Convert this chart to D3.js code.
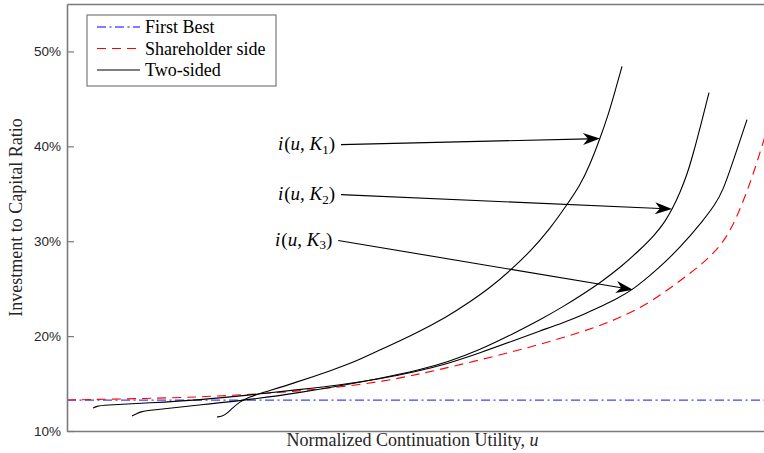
<!DOCTYPE html>
<html><head><meta charset="utf-8">
<script src="https://cdn.jsdelivr.net/npm/d3@7"></script>
<style>body{margin:0;background:#fff;overflow:hidden}</style>
</head><body><svg id="c" width="764" height="453"></svg>
<script>
// ---- data ----
const yTicks = [10, 20, 30, 40, 50];
const yTickLabels = ["10%", "20%", "30%", "40%", "50%"];
const legendLabels = ["First Best", "Shareholder side", "Two-sided"];

const firstBestU = [0, 1.01];
const firstBestV = [13.25, 13.25];

const shareU = [0, 0.1187, 0.1903, 0.2618, 0.3333, 0.3906, 0.4521, 0.5050, 0.5436, 0.6381, 0.7096, 0.7582, 0.7911, 0.8340, 0.8770, 0.9056, 0.9270, 0.9442, 0.9585, 0.9728, 0.9857, 0.9971, 1.0086];
const shareV = [13.27, 13.43, 13.59, 13.85, 14.22, 14.64, 15.22, 16.02, 16.65, 18.34, 19.82, 20.98, 21.93, 23.51, 25.83, 27.41, 28.89, 30.47, 32.59, 35.22, 37.97, 40.71, 43.46];

const k1U = [0.2146, 0.2217, 0.2289, 0.2361, 0.2475, 0.2618, 0.2761, 0.3233, 0.3805, 0.4149, 0.4478, 0.4979, 0.5436, 0.5765, 0.6052, 0.6338, 0.6624, 0.6910, 0.7153, 0.7339, 0.7482, 0.7625, 0.7740, 0.7840, 0.7940];
const k1V = [11.48, 11.53, 11.85, 12.37, 13.11, 13.59, 13.96, 15.01, 16.44, 17.39, 18.55, 20.24, 22.03, 23.61, 25.09, 26.89, 28.89, 31.32, 33.85, 35.86, 38.07, 40.82, 43.25, 45.78, 48.42];

const k2U = [0.0930, 0.1001, 0.1073, 0.1159, 0.1903, 0.2761, 0.3333, 0.3906, 0.4478, 0.5050, 0.5436, 0.5908, 0.6381, 0.6767, 0.7096, 0.7411, 0.7625, 0.7911, 0.8197, 0.8412, 0.8555, 0.8655, 0.8770, 0.8870, 0.8956, 0.9084, 0.9185];
const k2V = [11.58, 11.85, 12.06, 12.16, 12.74, 13.43, 14.06, 14.75, 15.54, 16.44, 17.23, 18.55, 20.24, 21.71, 23.09, 24.56, 25.62, 27.20, 29.10, 30.69, 32.06, 33.32, 35.12, 37.02, 39.13, 42.72, 45.67];

const k3U = [0.0372, 0.0429, 0.0501, 0.1187, 0.1903, 0.2618, 0.3333, 0.3906, 0.4478, 0.4979, 0.5436, 0.5908, 0.6381, 0.6767, 0.7096, 0.7411, 0.7625, 0.7840, 0.8097, 0.8441, 0.8770, 0.9099, 0.9270, 0.9385, 0.9528, 0.9728];
const k3V = [12.43, 12.61, 12.71, 12.96, 13.27, 13.80, 14.38, 14.85, 15.49, 16.23, 17.07, 18.23, 19.50, 20.55, 21.40, 22.35, 23.09, 23.83, 24.88, 26.99, 29.31, 32.16, 33.85, 35.33, 38.39, 42.82];

const annotSub = ["1", "2", "3"];
const annotStartU = [0.392, 0.392, 0.388];
const annotStartV = [40.18, 34.91, 30.08];
const annotTipU = [0.7625, 0.8655, 0.8097];
const annotTipV = [40.82, 33.40, 24.88];

// ---- layout ----
const L = 67, R = 766, T = 4, B = 431;
const svg = d3.select("#c");
const x = d3.scaleLinear().domain([0, 1]).range([L, R]);
const y = d3.scaleLinear().domain([10, 55]).range([B, T]);

svg.append("defs").append("clipPath").attr("id", "clip")
  .append("rect").attr("x", L).attr("y", T).attr("width", R - L).attr("height", B - T);

const plot = svg.append("g").attr("clip-path", "url(#clip)");
const line = d3.line().x(d => x(d[0])).y(d => y(d[1])).curve(d3.curveBasis);
const zip = (a, b) => a.map((v, i) => [v, b[i]]);

plot.append("path").datum(zip(firstBestU, firstBestV)).attr("d", line)
  .attr("fill", "none").attr("stroke", "#4040ff").attr("stroke-width", 1.4)
  .attr("stroke-dasharray", "9,3.5,2,3.5");
plot.append("path").datum(zip(shareU, shareV)).attr("d", line)
  .attr("fill", "none").attr("stroke", "#ff0000").attr("stroke-width", 1.1)
  .attr("stroke-dasharray", "9,6");
[[k1U, k1V], [k2U, k2V], [k3U, k3V]].forEach(([u, v]) => {
  plot.append("path").datum(zip(u, v)).attr("d", line)
    .attr("fill", "none").attr("stroke", "#000").attr("stroke-width", 1.1);
});

// ---- axes ----
const axisColor = "#7a7a7a";
const yAxis = d3.axisLeft(y).tickValues(yTicks).tickFormat((d, i) => yTickLabels[i])
  .tickSizeInner(-7).tickSizeOuter(0).tickPadding(6);
const gy = svg.append("g").attr("transform", `translate(${L},0)`).call(yAxis);
gy.select(".domain").attr("stroke", axisColor).attr("stroke-width", 1.6);
gy.selectAll(".tick line").attr("stroke", axisColor).attr("stroke-width", 1.2);
gy.selectAll(".tick text").attr("font-family", "Liberation Sans, Arial, sans-serif")
  .attr("font-size", 13.5).attr("fill", "#262626");

const xAxis = d3.axisBottom(x).tickValues([]).tickSizeOuter(0);
const gx = svg.append("g").attr("transform", `translate(0,${B})`).call(xAxis);
gx.select(".domain").attr("stroke", axisColor).attr("stroke-width", 1.6);
const gt = svg.append("g").attr("transform", `translate(0,${T})`).call(d3.axisTop(x).tickValues([]).tickSizeOuter(0));
gt.select(".domain").attr("stroke", axisColor).attr("stroke-width", 1.6);

// labels
const serif = "Liberation Serif, Times New Roman, serif";
svg.append("text").attr("x", (L + R) / 2 - 4).attr("y", 446).attr("text-anchor", "middle")
  .attr("font-family", serif).attr("font-size", 18).attr("fill", "#262626")
  .text("Normalized Continuation Utility, ")
  .append("tspan").attr("font-style", "italic").text("u");
svg.append("text").attr("transform", `translate(22,${(T + B) / 2}) rotate(-90)`)
  .attr("text-anchor", "middle").attr("font-family", serif).attr("font-size", 18)
  .attr("fill", "#262626").text("Investment to Capital Ratio");

// ---- annotations ----
annotSub.forEach((s, i) => {
  const x0 = x(annotStartU[i]), y0 = y(annotStartV[i]);
  const x1 = x(annotTipU[i]), y1 = y(annotTipV[i]);
  const ang = Math.atan2(y1 - y0, x1 - x0);
  const headLen = 17;
  svg.append("line").attr("x1", x0).attr("y1", y0)
    .attr("x2", x1 - Math.cos(ang) * 12).attr("y2", y1 - Math.sin(ang) * 12)
    .attr("stroke", "#000").attr("stroke-width", 1.1);
  svg.append("path").attr("d", `M0,0 L${-headLen},${-6} L${-12},0 L${-headLen},6 Z`)
    .attr("transform", `translate(${x1},${y1}) rotate(${ang * 180 / Math.PI})`)
    .attr("fill", "#000");
  const t = svg.append("text").attr("x", x0 - 6).attr("y", y0 + 5.5)
    .attr("text-anchor", "end").attr("font-family", serif).attr("font-size", 19).attr("fill", "#000");
  t.append("tspan").attr("font-style", "italic").text("i");
  t.append("tspan").attr("dx", 1).text("(");
  t.append("tspan").attr("font-style", "italic").text("u");
  t.append("tspan").text(", ");
  t.append("tspan").attr("font-style", "italic").text("K");
  t.append("tspan").attr("font-size", 13).attr("dy", 3.5).text(s);
  t.append("tspan").attr("dy", -3.5).text(")");
});

// ---- legend ----
const lg = svg.append("g");
lg.append("rect").attr("x", 87).attr("y", 15).attr("width", 189).attr("height", 71)
  .attr("fill", "#fff").attr("stroke", axisColor).attr("stroke-width", 1.2);
const legStyles = [
  {c: "#0000ff", d: "9,3.5,2,3.5", w: 1.2},
  {c: "#ff0000", d: "9,6", w: 1.1},
  {c: "#000", d: null, w: 1.1}
];
legendLabels.forEach((lab, i) => {
  const yy = 27 + i * 21.5;
  const l = lg.append("line").attr("x1", 97).attr("x2", 140).attr("y1", yy).attr("y2", yy)
    .attr("stroke", legStyles[i].c).attr("stroke-width", legStyles[i].w);
  if (legStyles[i].d) l.attr("stroke-dasharray", legStyles[i].d);
  lg.append("text").attr("x", 145).attr("y", yy + 6).attr("font-family", serif)
    .attr("font-size", 18).attr("fill", "#000").text(lab);
});
</script>
</body></html>
